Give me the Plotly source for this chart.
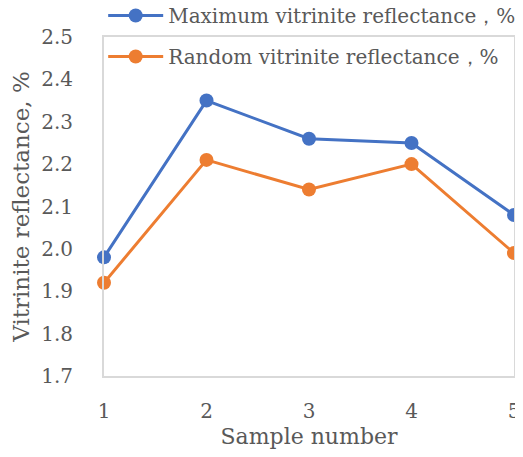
import plotly.graph_objects as go

samples = [1, 2, 3, 4, 5]
max_ro = [1.98, 2.35, 2.26, 2.25, 2.08]
ran_ro = [1.92, 2.21, 2.14, 2.20, 1.99]
y_ticks = [1.7, 1.8, 1.9, 2.0, 2.1, 2.2, 2.3, 2.4, 2.5]

FONT = "DejaVu Serif"
TXT = "#595959"
NB = "\u00a0"

fig = go.Figure()
fig.add_trace(go.Scatter(x=samples, y=max_ro, mode="lines+markers",
                         name="Maximum vitrinite reflectance，%", legendgroup="a",
                         line=dict(color="#4472C4", width=3),
                         marker=dict(size=14, color="#4472C4"), cliponaxis=False))
fig.add_trace(go.Scatter(x=samples, y=ran_ro, mode="lines+markers",
                         name="Random vitrinite reflectance，%", legendgroup="b",
                         line=dict(color="#ED7D31", width=3),
                         marker=dict(size=14, color="#ED7D31"), cliponaxis=False))

fig.update_layout(
    width=507, height=441,
    margin=dict(l=96, r=1, t=29, b=73, autoexpand=False),
    paper_bgcolor="white", plot_bgcolor="white",
    font=dict(family=FONT, color=TXT, size=20),
    legend=dict(x=-0.002, y=1.121, xanchor="left", yanchor="top",
                bgcolor="rgba(0,0,0,0)", font=dict(size=20, color=TXT),
                traceorder="grouped", tracegroupgap=12, itemwidth=55),
    xaxis=dict(range=[1, 5], tickvals=samples, ticktext=[str(s) for s in samples],
               showgrid=False, zeroline=False, showline=True, mirror=True,
               linecolor="#D9D9D9", linewidth=2, ticks="", ticklabelstandoff=16,
               ticklabeloverflow="allow",
               title=dict(text=NB * 9 + "Sample number", font=dict(size=22, color=TXT), standoff=10),
               tickfont=dict(size=20, color=TXT)),
    yaxis=dict(range=[1.7, 2.5], tickvals=y_ticks, ticktext=[f"{v:.1f}" for v in y_ticks],
               showgrid=False, zeroline=False, showline=True, mirror=True,
               linecolor="#D9D9D9", linewidth=2, ticks="", ticklabelstandoff=25,
               ticklabeloverflow="allow",
               title=dict(text="Vitrinite reflectance, %" + NB * 2, font=dict(size=23, color=TXT), standoff=13),
               tickfont=dict(size=20, color=TXT)),
    showlegend=True,
)

fig.write_html("out.html")
